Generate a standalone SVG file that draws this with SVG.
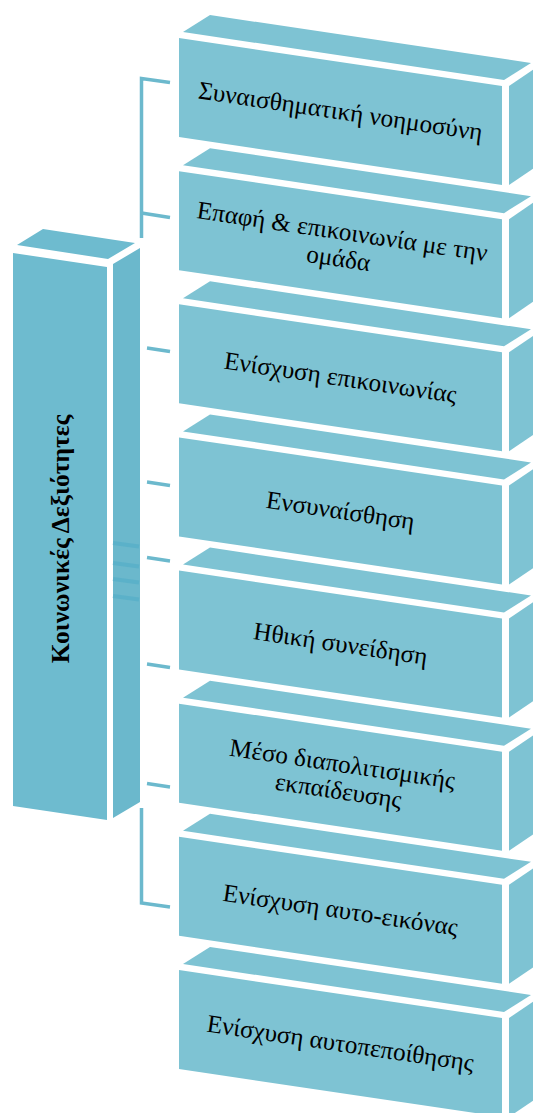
<svg xmlns="http://www.w3.org/2000/svg" xmlns:xlink="http://www.w3.org/1999/xlink" width="533" height="1113" viewBox="0 0 533 1113">
<style>
.face{fill:#7EC3D3}
.lface{fill:#6EBBCF}
.lside{fill:#6BB8CC}
.conn{fill:none;stroke:#6CB9CD;stroke-width:3.5;stroke-linecap:butt;stroke-linejoin:miter}
.stripe{fill:none;stroke:#58AFC8;stroke-width:4;opacity:0.8}
.lbl{font-family:"Liberation Serif","Times New Roman",serif;font-size:25.2px;fill:#000;text-anchor:middle}
.main{font-family:"Liberation Serif","Times New Roman",serif;font-size:25.5px;font-weight:bold;fill:#000;text-anchor:middle}
</style>
<defs>
<g id="box">
<polygon class="face" points="183,32 210,15 531,63 504,80"/>
<polygon class="face" points="179,38 502,86 502,185 179,137"/>
<polygon class="face" points="509,86 537,67 537,166 509,185"/>
</g>
</defs>
<rect width="533" height="1113" fill="#fff"/>
<g id="connectors">
<path class="conn" d="M170,82.5 L141.5,78.5 L141.5,238"/>
<path class="conn" d="M141.5,213 L170,217.5"/>
<path class="conn" d="M141.5,808 L141.5,903 L170,907"/>
<path class="conn" d="M147,348 L170,351.5"/>
<path class="conn" d="M147,482 L170,485.5"/>
<path class="conn" d="M147,557.5 L170,561"/>
<path class="conn" d="M147,664 L170,667.5"/>
<path class="conn" d="M147,783.5 L170,787"/>
</g>
<g id="node-main">
<polygon class="lface" points="17,245 43,229 135,243 108,259"/>
<polygon class="lface" points="13,253 107,267 107,820 13,806"/>
<polygon class="lside" points="113,264 140,248 140,802 113,818"/>
<path class="stripe" d="M113,543 L139,546.5 M113,563 L139,566.5 M113,579 L139,582.5 M113,596 L139,599.5"/>
<text class="main" transform="translate(60,539) rotate(-90)" x="0" y="8.5">Κοινωνικές Δεξιότητες</text>
</g>
<g id="node-1">
<use xlink:href="#box"/>
<text class="lbl" transform="rotate(8.45 340.5 111.5)" x="340.5" y="119.5">Συναισθηματική νοημοσύνη</text>
</g>
<g id="node-2">
<use xlink:href="#box" y="133.14"/>
<text class="lbl" transform="rotate(8.45 340.5 244.6)" x="340.5" y="239.6">Επαφή &amp; επικοινωνία με την</text>
<text class="lbl" transform="rotate(8.45 340.5 244.6)" x="340.5" y="266.6">ομάδα</text>
</g>
<g id="node-3">
<use xlink:href="#box" y="266.28"/>
<text class="lbl" transform="rotate(8.45 340.5 377.8)" x="340.5" y="385.8">Ενίσχυση επικοινωνίας</text>
</g>
<g id="node-4">
<use xlink:href="#box" y="399.42"/>
<text class="lbl" transform="rotate(8.45 340.5 510.9)" x="340.5" y="518.9">Ενσυναίσθηση</text>
</g>
<g id="node-5">
<use xlink:href="#box" y="532.56"/>
<text class="lbl" transform="rotate(8.45 340.5 644.1)" x="340.5" y="652.1">Ηθική συνείδηση</text>
</g>
<g id="node-6">
<use xlink:href="#box" y="665.7"/>
<text class="lbl" transform="rotate(8.45 340.5 777.2)" x="340.5" y="772.2">Μέσο διαπολιτισμικής</text>
<text class="lbl" transform="rotate(8.45 340.5 777.2)" x="340.5" y="799.2">εκπαίδευσης</text>
</g>
<g id="node-7">
<use xlink:href="#box" y="798.84"/>
<text class="lbl" transform="rotate(8.45 340.5 910.3)" x="340.5" y="918.3">Ενίσχυση αυτο-εικόνας</text>
</g>
<g id="node-8">
<use xlink:href="#box" y="931.98"/>
<text class="lbl" transform="rotate(8.45 340.5 1043.5)" x="340.5" y="1051.5">Ενίσχυση αυτοπεποίθησης</text>
</g>
</svg>
